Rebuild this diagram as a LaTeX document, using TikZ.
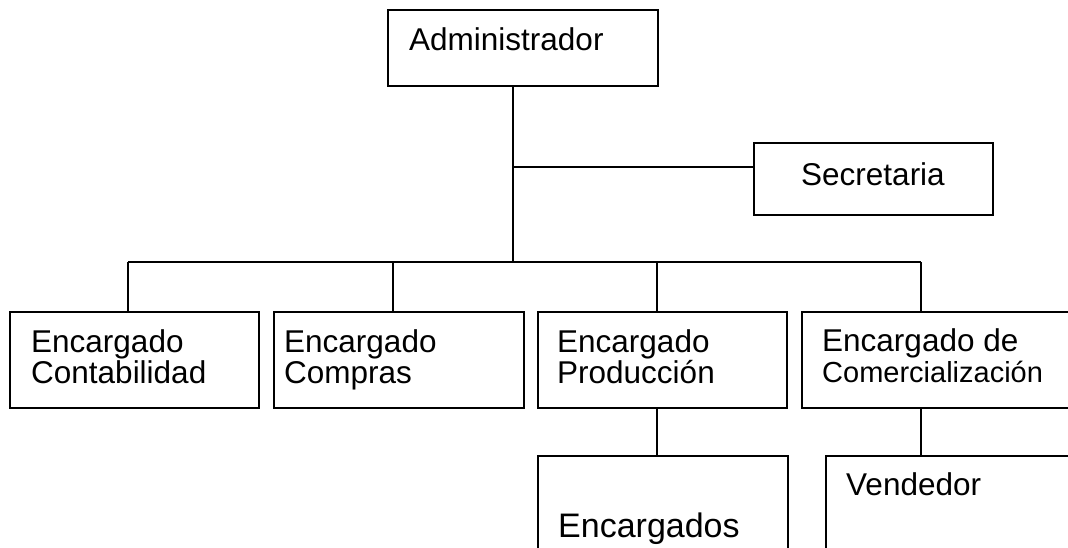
\documentclass[tikz,border=0pt]{standalone}
\usepackage{fontspec}
\setmainfont{Liberation Sans}
\usetikzlibrary{calc}

\tikzset{
  caja/.style={draw, line width=1.9pt, inner sep=0pt, anchor=north west},
  txt/.style={inner sep=0pt, anchor=north west, align=left, font=\fontsize{31.5}{31}\selectfont}
}

\begin{document}
\begin{tikzpicture}[x=1pt,y=-1pt]
\useasboundingbox (0,0) rectangle (1068,548);
\clip (0,0) rectangle (1068,548);
% cajas
\node[caja, minimum width=270pt, minimum height=76pt] (adm) at (387,9) {};
\node[caja, minimum width=239pt, minimum height=72pt] (secr) at (753,142) {};
\node[caja, minimum width=249pt, minimum height=96pt] (b1) at (9,311) {};
\node[caja, minimum width=250pt, minimum height=96pt] (b2) at (273,311) {};
\node[caja, minimum width=249pt, minimum height=96pt] (b3) at (537,311) {};
\node[caja, minimum width=300pt, minimum height=96pt] (b4) at (801,311) {};
\node[caja, minimum width=250pt, minimum height=120pt] (enc) at (537,455) {};
\node[caja, minimum width=300pt, minimum height=120pt] (ven) at (825,455) {};
% textos
\node[txt] (tadm) at (409,27) {Administrador};
\node[txt] (tsecr) at (801,162) {Secretaria};
\node[txt] (tb1) at (31,329) {Encargado\\Contabilidad};
\node[txt] (tb2) at (284,329) {Encargado\\Compras};
\node[txt] (tb3) at (557,329) {Encargado\\Producción};
\node[txt] (tb4) at (822,328) {Encargado de\\{\fontsize{29}{31}\selectfont Comercialización}};
\node[txt, font=\fontsize{34}{34}\selectfont] (tenc) at (558,513) {Encargados};
\node[txt] (tven) at (846,472) {Vendedor};
% lineas
\coordinate (bar) at (513,262);
\coordinate (sbr) at (513,167);
\coordinate (d1) at (128,262);
\coordinate (d2) at (393,262);
\coordinate (d3) at (657,262);
\coordinate (d4) at (921,262);
\begin{scope}[line width=1.9pt]
\draw (adm.south -| bar) -- (bar);
\draw (sbr) -- (sbr -| secr.west);
\draw (d1) -- (d4);
\foreach \i in {1,...,4}
  \draw (d\i) -- (d\i |- b\i.north);
\draw (d3 |- b3.south) -- (d3 |- enc.north);
\draw (d4 |- b4.south) -- (d4 |- ven.north);
\end{scope}
\end{tikzpicture}
\end{document}
